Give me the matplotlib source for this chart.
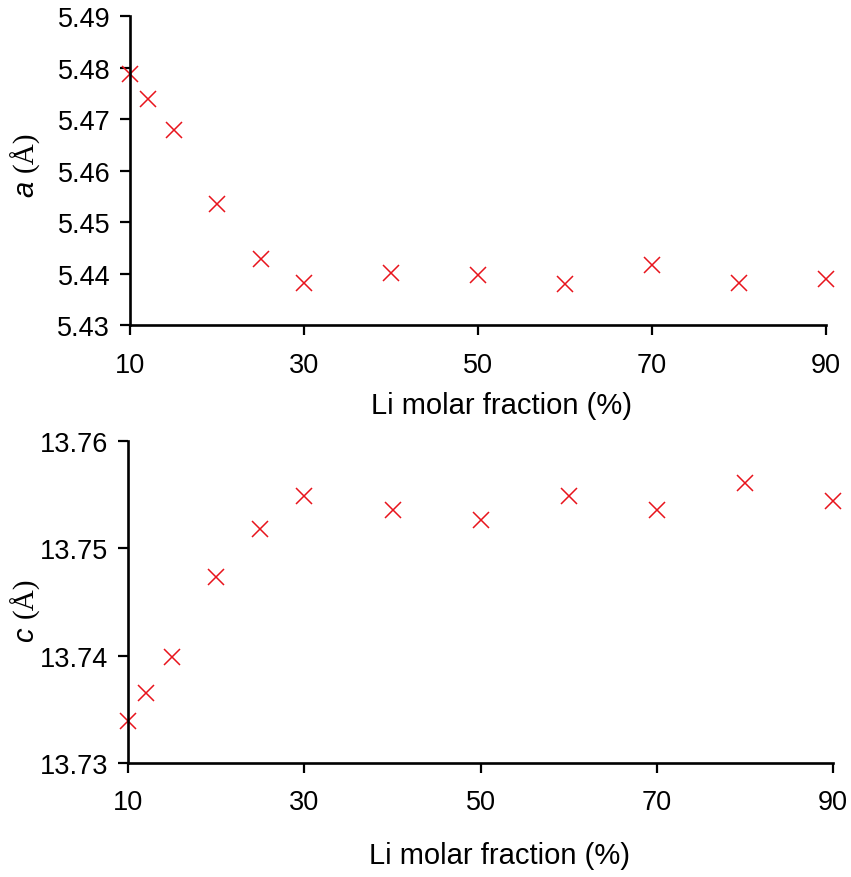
import matplotlib
matplotlib.use("Agg")
import matplotlib.pyplot as plt

# Li molar fraction (%) and lattice parameters
li_fraction = [10, 12, 15, 20, 25, 30, 40, 50, 60, 70, 80, 90]
lattice_a = [5.4788, 5.4739, 5.4679, 5.4535, 5.4428, 5.4381,
             5.4401, 5.4397, 5.4380, 5.4416, 5.4381, 5.4390]
lattice_c = [13.7339, 13.7365, 13.7399, 13.7473, 13.7518, 13.7549,
             13.7536, 13.7526, 13.7549, 13.7536, 13.7561, 13.7544]

x_ticks = [10, 30, 50, 70, 90]
a_ticks = [5.43, 5.44, 5.45, 5.46, 5.47, 5.48, 5.49]
c_ticks = [13.73, 13.74, 13.75, 13.76]

plt.rcParams["font.family"] = ["Liberation Sans", "DejaVu Sans"]

W, H = 851, 878
fig = plt.figure(figsize=(W / 100, H / 100), dpi=100)
ax_a = fig.add_axes([0.1533, 0.6287, 0.8173, 0.3516])
ax_c = fig.add_axes([0.1508, 0.1298, 0.8280, 0.3668])


def style(ax, yticks, xpad, xlab_xy):
    ax.set_xlim(10, 90)
    ax.set_ylim(yticks[0], yticks[-1])
    ax.set_xticks(x_ticks)
    ax.set_yticks(yticks)
    ax.set_yticklabels([f"{v:.2f}" for v in yticks])
    for side in ("top", "right"):
        ax.spines[side].set_visible(False)
    for side in ("left", "bottom"):
        ax.spines[side].set_linewidth(1.9)
    ax.tick_params(axis="both", direction="out", length=7.5, width=1.6,
                   labelsize=19.5, colors="black")
    ax.tick_params(axis="x", pad=xpad)
    ax.tick_params(axis="y", pad=7)
    ax.set_xlabel("Li molar fraction (%)", fontsize=21)
    ax.xaxis.set_label_coords(*xlab_xy)


def ylabel(symbol, x_px, y_px):
    # italic sans symbol followed by a serif unit, rotated like a y label
    renderer = fig.canvas.get_renderer()
    t1 = fig.text(x_px / W, 1 - y_px / H, symbol, rotation=90,
                  rotation_mode="anchor", ha="left", va="baseline",
                  fontsize=21, fontstyle="italic", family="Liberation Sans")
    top = t1.get_window_extent(renderer).y1
    fig.text(x_px / W, (top + 9) / H, "(Å)", rotation=90,
             rotation_mode="anchor", ha="left", va="baseline",
             fontsize=21, family="Liberation Serif")


ax_a.plot(li_fraction, lattice_a, linestyle="none", marker="x",
          color="#e8141c", markersize=12, markeredgewidth=1.1, clip_on=False)
ax_c.plot(li_fraction, lattice_c, linestyle="none", marker="x",
          color="#e8141c", markersize=12, markeredgewidth=1.1, clip_on=False)

style(ax_a, a_ticks, 12, (0.534, -0.214))
style(ax_c, c_ticks, 11, (0.527, -0.242))

ylabel("a", 33, 197)
ylabel("c", 33, 642)

fig.savefig("out.png", dpi=100)
